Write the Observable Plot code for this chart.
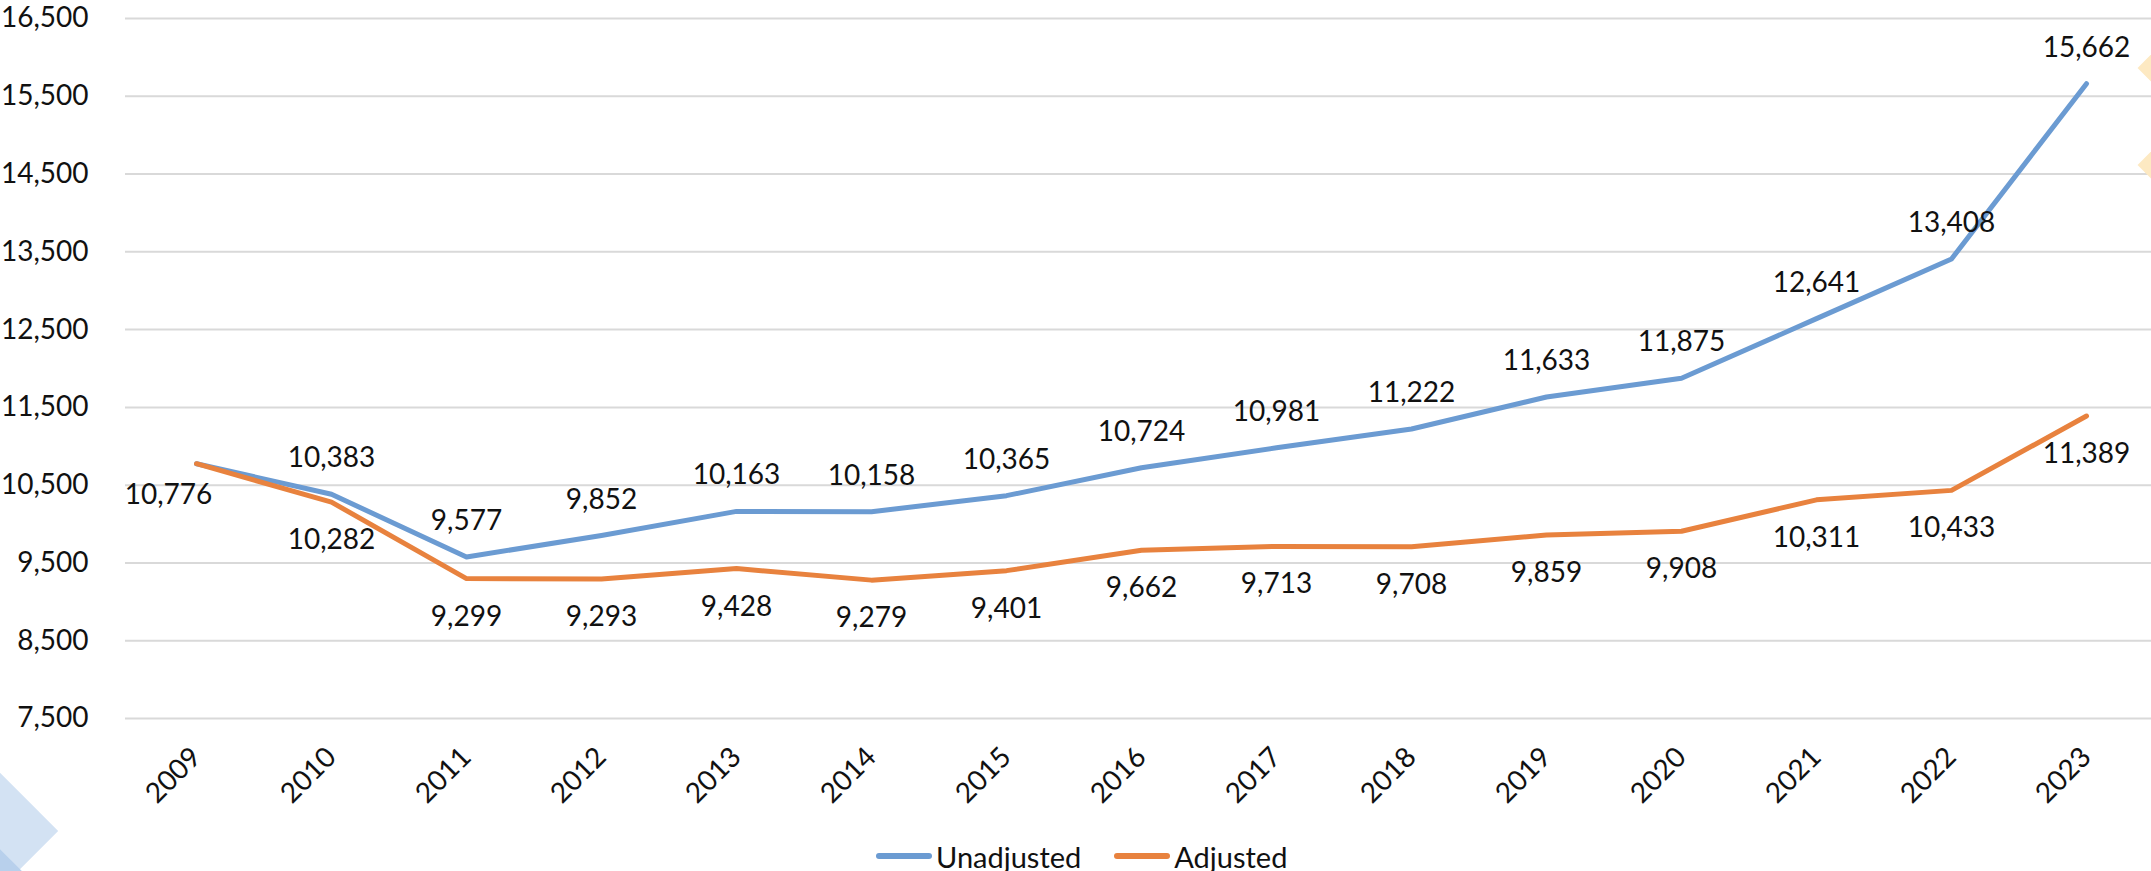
<!DOCTYPE html>
<html>
<head>
<meta charset="utf-8">
<script src="https://cdn.jsdelivr.net/npm/d3@7"></script>
<script src="https://cdn.jsdelivr.net/npm/@observablehq/plot@0.6"></script>
<style>
  html, body { margin: 0; padding: 0; background: #fff; overflow: hidden; width: 2151px; height: 871px; position: relative; font-family: Lato, "Open Sans", sans-serif; }
  #chart { position: absolute; left: 0; top: 0; }
  .deco { position: absolute; transform: rotate(45deg); z-index: 2; }
  #legend { position: absolute; left: 876px; top: 836px; height: 40px; display: flex; align-items: center; font-size: 29px; color: #111; z-index: 3; }
  .item { display: flex; align-items: center; margin-right: 33px; }
  .sw { width: 56px; height: 6px; border-radius: 3px; margin-right: 4px; }
</style>
</head>
<body>
<div id="chart"></div>
<div class="deco" style="left:-147px;top:746px;width:170px;height:170px;background:#d3e2f3;"></div>
<div class="deco" style="left:-112px;top:839px;width:144px;height:144px;background:#b8d0ec;"></div>
<div class="deco" style="left:2150px;top:38px;width:60px;height:60px;background:#fde9c2;"></div>
<div class="deco" style="left:2150px;top:135px;width:60px;height:60px;background:#fde9c2;"></div>
<div id="legend">
  <div class="item"><div class="sw" style="background:#6b9bd2"></div><span>Unadjusted</span></div>
  <div class="item"><div class="sw" style="background:#e8823e"></div><span>Adjusted</span></div>
</div>
<script>
const years = ["2009","2010","2011","2012","2013","2014","2015","2016","2017","2018","2019","2020","2021","2022","2023"];
const unadjusted = [10776, 10383, 9577, 9852, 10163, 10158, 10365, 10724, 10981, 11222, 11633, 11875, 12641, 13408, 15662];
const adjusted = [10776, 10282, 9299, 9293, 9428, 9279, 9401, 9662, 9713, 9708, 9859, 9908, 10311, 10433, 11389];
const yTicks = [7500, 8500, 9500, 10500, 11500, 12500, 13500, 14500, 15500, 16500];

const blue = "#6b9bd2", orange = "#e8823e";
const unData = years.map((y, i) => ({year: y, value: unadjusted[i]}));
const adData = years.map((y, i) => ({year: y, value: adjusted[i]}));
const fmt = d3.format(",");

const chart = Plot.plot({
  width: 2151,
  height: 830,
  marginTop: 18,
  marginBottom: 112,
  marginLeft: 125,
  marginRight: 0,
  style: {fontFamily: "Lato, 'Open Sans', sans-serif", fontSize: "28px", color: "#111", background: "transparent"},
  x: {type: "point", domain: years, range: [125, 2156], padding: 0.5},
  y: {domain: [7500, 16500]},
  marks: [
    Plot.gridY(yTicks, {stroke: "#d9d9d9", strokeOpacity: 1, strokeWidth: 2}),
    Plot.axisY({ticks: yTicks, tickFormat: fmt, tickSize: 0, tickPadding: 37, fontSize: 28, label: null}),
    Plot.axisX({tickRotate: -45, tickSize: 0, tickPadding: 34, fontSize: 28, label: null}),
    Plot.line(unData, {x: "year", y: "value", stroke: blue, strokeWidth: 5, strokeLinejoin: "round", strokeLinecap: "round"}),
    Plot.line(adData, {x: "year", y: "value", stroke: orange, strokeWidth: 5, strokeLinejoin: "round", strokeLinecap: "round"}),
    Plot.text(unData.filter(d => d.year !== "2009"), {x: "year", y: "value", text: d => fmt(d.value), dy: -36, fontSize: 28, fill: "#111"}),
    Plot.text(adData.filter(d => d.year !== "2009"), {x: "year", y: "value", text: d => fmt(d.value), dy: 38, fontSize: 28, fill: "#111"}),
    Plot.text(adData.filter(d => d.year === "2009"), {x: "year", y: "value", text: d => fmt(d.value), dx: -28, dy: 31, fontSize: 28, fill: "#111"})
  ]
});
document.getElementById("chart").appendChild(chart);
</script>
</body>
</html>
